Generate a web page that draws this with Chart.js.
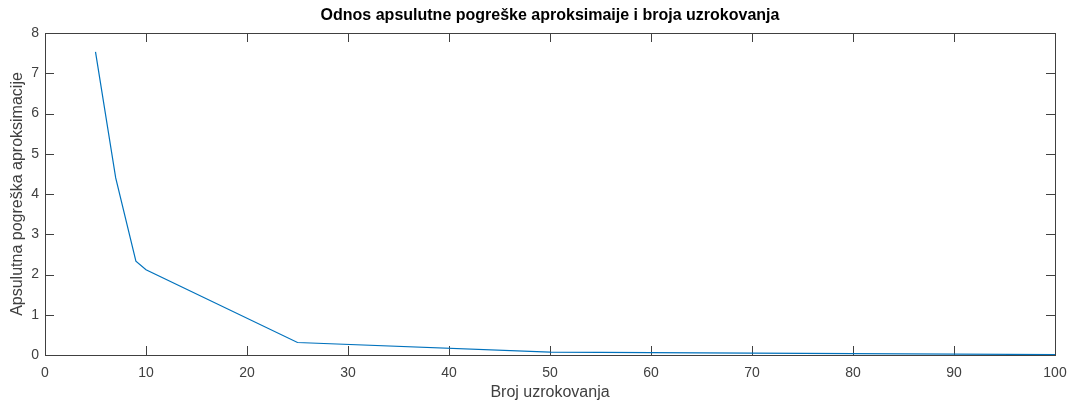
<!DOCTYPE html>
<html>
<head>
<meta charset="utf-8">
<title>Odnos apsulutne pogreške aproksimaije i broja uzrokovanja</title>
<script src="https://cdn.jsdelivr.net/npm/chart.js@4"></script>
<style>
  html, body { margin: 0; padding: 0; background: #fff; }
  #wrap { width: 1073px; height: 401px; }
</style>
</head>
<body>
<div id="wrap"><canvas id="errChart" width="1073" height="401"></canvas></div>
<script>
// data
const brojUzrokovanja = [5, 7, 9, 10, 25, 50, 75, 100];
const pogreska = [7.53, 4.4, 2.33, 2.12, 0.31, 0.07, 0.04, 0.01];
const xTicks = [0, 10, 20, 30, 40, 50, 60, 70, 80, 90, 100];
const yTicks = [0, 1, 2, 3, 4, 5, 6, 7, 8];

const naslov = 'Odnos apsulutne pogreške aproksimaije i broja uzrokovanja';
const xNaslov = 'Broj uzrokovanja';
const yNaslov = 'Apsulutna pogreška aproksimacije';

const FONT = '"Liberation Sans", Arial, Helvetica, sans-serif';
const AXIS = '#404040';

// MATLAB-like box with inward ticks on all four sides, plus the title
const boxPlugin = {
  id: 'box',
  beforeDatasetsDraw(chart) {
    const { ctx, chartArea: a, scales } = chart;
    const len = 9;
    ctx.save();
    ctx.strokeStyle = AXIS;
    ctx.lineWidth = 1;
    ctx.beginPath();
    xTicks.forEach(v => {
      const px = Math.round(scales.x.getPixelForValue(v)) + 0.5;
      ctx.moveTo(px, a.bottom); ctx.lineTo(px, a.bottom - len);
      ctx.moveTo(px, a.top); ctx.lineTo(px, a.top + len);
    });
    yTicks.forEach(v => {
      const py = Math.round(scales.y.getPixelForValue(v)) + 0.5;
      ctx.moveTo(a.left, py); ctx.lineTo(a.left + len, py);
      ctx.moveTo(a.right, py); ctx.lineTo(a.right - len, py);
    });
    ctx.stroke();
    ctx.strokeRect(Math.round(a.left) + 0.5, Math.round(a.top) + 0.5,
      Math.round(a.right - a.left), Math.round(a.bottom - a.top));
    ctx.restore();
  },
  afterDraw(chart) {
    const { ctx, chartArea: a } = chart;
    ctx.save();
    ctx.fillStyle = '#000';
    ctx.font = 'bold 16px ' + FONT;
    ctx.textAlign = 'center';
    ctx.textBaseline = 'middle';
    ctx.fillText(naslov, (a.left + a.right) / 2, 16);
    ctx.restore();
  }
};

const ctx = document.getElementById('errChart').getContext('2d');
new Chart(ctx, {
  type: 'line',
  data: {
    datasets: [{
      data: brojUzrokovanja.map((x, i) => ({ x, y: pogreska[i] })),
      borderColor: '#0072BD',
      borderWidth: 1.2,
      pointRadius: 0,
      tension: 0,
      fill: false
    }]
  },
  plugins: [boxPlugin],
  options: {
    responsive: false,
    animation: false,
    layout: { padding: { top: 33, right: 18, left: 0, bottom: 0 } },
    plugins: {
      legend: { display: false },
      tooltip: { enabled: false },
      title: { display: false }
    },
    scales: {
      x: {
        type: 'linear',
        min: 0,
        max: 100,
        afterBuildTicks: s => { s.ticks = xTicks.map(v => ({ value: v })); },
        afterFit: s => { s.height = 46; s.paddingLeft = 0; s.paddingRight = 0; },
        grid: { display: false, drawTicks: false },
        border: { display: false },
        ticks: { color: AXIS, font: { family: FONT, size: 14 }, padding: 10, maxRotation: 0 },
        title: {
          display: true, text: xNaslov, color: AXIS,
          font: { family: FONT, size: 16, lineHeight: 1 },
          padding: { top: 0, bottom: 0 }
        }
      },
      y: {
        type: 'linear',
        min: 0,
        max: 8,
        afterBuildTicks: s => { s.ticks = yTicks.map(v => ({ value: v })); },
        afterFit: s => { s.width = 45; s.paddingTop = 0; s.paddingBottom = 0; },
        grid: { display: false, drawTicks: false },
        border: { display: false },
        ticks: { color: AXIS, font: { family: FONT, size: 14 }, padding: 6 },
        title: {
          display: true, text: yNaslov, color: AXIS,
          font: { family: FONT, size: 16, lineHeight: 1 },
          padding: { top: 10, bottom: 0 }
        }
      }
    }
  }
});
</script>
</body>
</html>
